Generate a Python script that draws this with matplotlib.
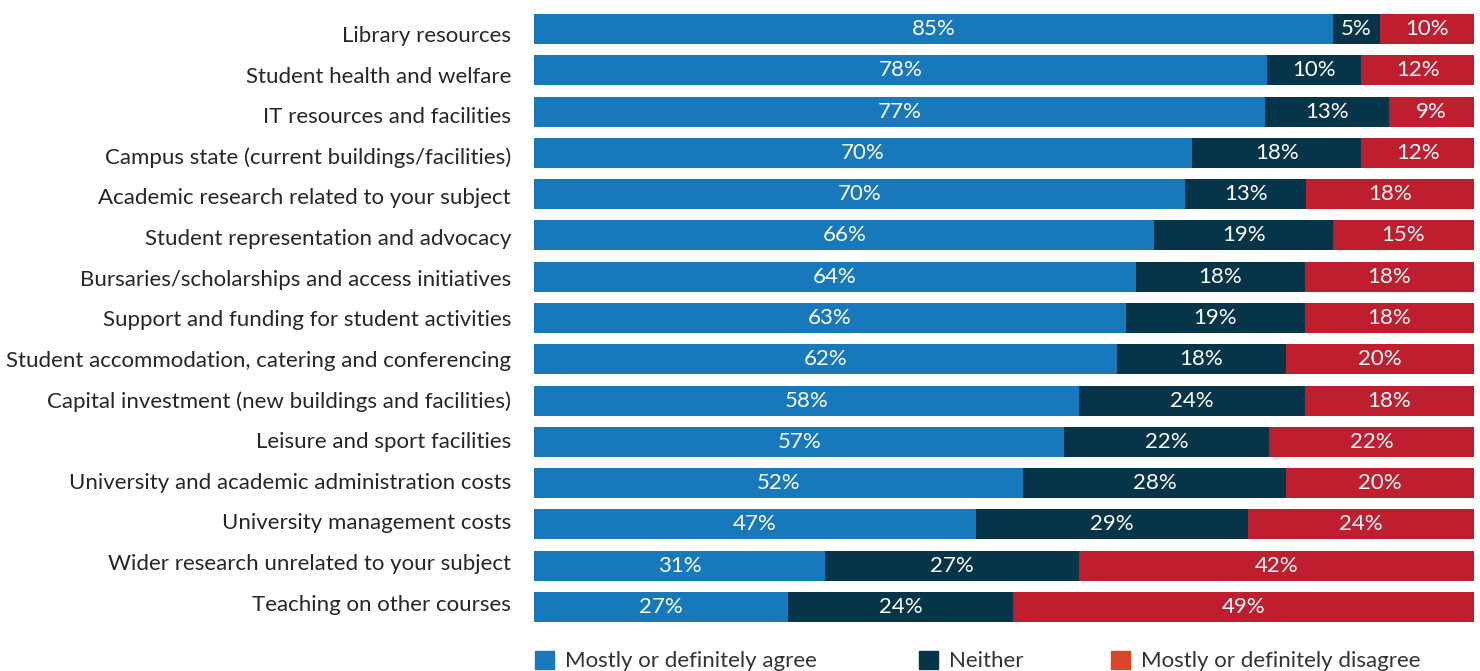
import numpy as np
import matplotlib
matplotlib.use("Agg")
import matplotlib.pyplot as plt
from matplotlib.patches import Patch
from matplotlib.transforms import ScaledTranslation

plt.rcParams['font.family'] = ['Lato', 'DejaVu Sans']

categories = [
    "Library resources",
    "Student health and welfare",
    "IT resources and facilities",
    "Campus state (current buildings/facilities)",
    "Academic research related to your subject",
    "Student representation and advocacy",
    "Bursaries/scholarships and access initiatives",
    "Support and funding for student activities",
    "Student accommodation, catering and conferencing",
    "Capital investment (new buildings and facilities)",
    "Leisure and sport facilities",
    "University and academic administration costs",
    "University management costs",
    "Wider research unrelated to your subject",
    "Teaching on other courses",
]
agree = [85, 78, 77, 70, 70, 66, 64, 63, 62, 58, 57, 52, 47, 31, 27]
neither = [5, 10, 13, 18, 13, 19, 18, 19, 18, 24, 22, 28, 29, 27, 24]
disagree = [10, 12, 9, 12, 18, 15, 18, 18, 20, 18, 22, 20, 24, 42, 49]
series_names = ["Mostly or definitely agree", "Neither", "Mostly or definitely disagree"]

col_agree = "#1878bc"
col_neither = "#063449"
col_disagree = "#be1e2d"
col_disagree_key = "#da4628"   # legend swatch is a different red in the original

W, H = 1480, 671
fig = plt.figure(figsize=(W / 100, H / 100), dpi=100)
ax = fig.add_axes([534 / W, 1 - 622 / H, (1474 - 534) / W, (622 - 14) / H])

vals = np.array([agree, neither, disagree], dtype=float)
shares = vals / vals.sum(axis=0) * 100  # bars are stretched to 100%
n = len(categories)
y = np.arange(n)
bh = 30 / 41.3

left = np.zeros(n)
for k, col in enumerate([col_agree, col_neither, col_disagree]):
    ax.barh(y, shares[k], left=left, height=bh, color=col, linewidth=0)
    for i in range(n):
        ax.text(left[i] + shares[k][i] / 2, y[i], "%d%%" % vals[k][i],
                ha='center', va='center', color='white', fontsize=16)
    left += shares[k]

ax.set_xlim(0, 100)
ax.set_ylim(n - 1 + bh / 2, -bh / 2)
ax.set_yticks(y)
ax.set_yticklabels(categories, fontsize=16, color="#262626")
ax.tick_params(axis='y', length=0, pad=16.5)
ax.set_xticks([])
for s in ax.spines.values():
    s.set_visible(False)

# labels in the original drift slightly against the bars (a bit lower at top, higher at bottom)
for i, lab in enumerate(ax.get_yticklabels()):
    off = 5 - 9.5 * i / (n - 1)
    lab.set_transform(lab.get_transform() + ScaledTranslation(0, -off / 100, fig.dpi_scale_trans))

# one legend entry per box so each sits where the original puts it
key_cols = [col_agree, col_neither, col_disagree_key]
key_x = [535, 919, 1111]
for name, col, kx in zip(series_names, key_cols, key_x):
    fig.legend([Patch(color=col)], [name], loc='center left',
               bbox_to_anchor=(kx / W, 1 - 661 / H), frameon=False,
               fontsize=16, labelcolor="#333333",
               handlelength=0.86, handleheight=0.86, handletextpad=0.5,
               borderaxespad=0, borderpad=0)

fig.savefig("out.png", dpi=100)
